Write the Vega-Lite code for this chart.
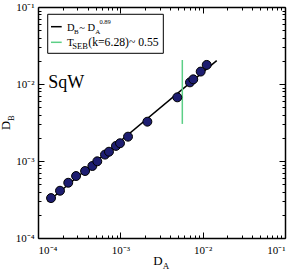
{
  "$schema": "https://vega.github.io/schema/vega-lite/v6.json",
  "autosize": "none",
  "width": 247,
  "height": 231,
  "padding": {"left": 38, "top": 7, "right": 10, "bottom": 34},
  "background": "white",
  "data": {"values": [{"anchor": 1}]},
  "config": {
    "view": {"stroke": null},
    "axis": {"grid": false, "domainColor": "black", "domainWidth": 1.5, "tickColor": "black", "tickWidth": 1, "labelFont": "Liberation Serif", "labelFontSize": 11, "labelColor": "black"}
  },
  "resolve": {"axis": {"x": "independent", "y": "independent"}},
  "layer": [
    {
      "data": {"values": [
        {"DA": 0.0001312, "DB": 0.000296},
        {"DA": 0.01481, "DB": 0.0201}
      ]},
      "mark": {"type": "line", "color": "black", "strokeWidth": 1.5},
      "encoding": {
        "x": {"field": "DA", "type": "quantitative", "scale": {"type": "log", "domain": [0.0001, 0.1], "nice": false},
          "axis": {"orient": "top", "title": null, "labels": false,
            "values": [0.0001,0.0002,0.0003,0.0004,0.0005,0.0006,0.0007,0.0008,0.0009,0.001,0.002,0.003,0.004,0.005,0.006,0.007,0.008,0.009,0.01,0.02,0.03,0.04,0.05,0.06,0.07,0.08,0.09,0.1],
            "tickSize": {"condition": {"test": "indexof([0.0001,0.001,0.01,0.1], datum.value) >= 0", "value": -6}, "value": -3}}},
        "y": {"field": "DB", "type": "quantitative", "scale": {"type": "log", "domain": [0.0001, 0.1], "nice": false},
          "axis": {"orient": "right", "title": null, "labels": false,
            "values": [0.0001,0.0002,0.0003,0.0004,0.0005,0.0006,0.0007,0.0008,0.0009,0.001,0.002,0.003,0.004,0.005,0.006,0.007,0.008,0.009,0.01,0.02,0.03,0.04,0.05,0.06,0.07,0.08,0.09,0.1],
            "tickSize": {"condition": {"test": "indexof([0.0001,0.001,0.01,0.1], datum.value) >= 0", "value": -6}, "value": -3}}}
      }
    },
    {
      "data": {"values": [{"DA": 0.00566, "lo": 0.00303, "hi": 0.0205}]},
      "mark": {"type": "rule", "color": "#5ccf86", "strokeWidth": 1.5},
      "encoding": {
        "x": {"field": "DA", "type": "quantitative", "scale": {"type": "log", "domain": [0.0001, 0.1], "nice": false}, "axis": null},
        "y": {"field": "lo", "type": "quantitative", "scale": {"type": "log", "domain": [0.0001, 0.1], "nice": false}, "axis": null},
        "y2": {"field": "hi"}
      }
    },
    {
      "data": {"values": [
        {"DA": 0.000144, "DB": 0.000330},
        {"DA": 0.000185, "DB": 0.000411},
        {"DA": 0.000233, "DB": 0.000522},
        {"DA": 0.000290, "DB": 0.000638},
        {"DA": 0.000373, "DB": 0.000741},
        {"DA": 0.000457, "DB": 0.000861},
        {"DA": 0.000525, "DB": 0.000991},
        {"DA": 0.000651, "DB": 0.00121},
        {"DA": 0.000728, "DB": 0.00132},
        {"DA": 0.000885, "DB": 0.00157},
        {"DA": 0.000991, "DB": 0.00170},
        {"DA": 0.00124, "DB": 0.00207},
        {"DA": 0.00213, "DB": 0.00324},
        {"DA": 0.00492, "DB": 0.00671},
        {"DA": 0.00701, "DB": 0.0105},
        {"DA": 0.00769, "DB": 0.0115},
        {"DA": 0.00946, "DB": 0.0145},
        {"DA": 0.0112, "DB": 0.0177}
      ]},
      "mark": {"type": "point", "shape": "circle", "filled": true, "fill": "#1d1d70", "stroke": "black", "strokeWidth": 1, "size": 80, "opacity": 1},
      "encoding": {
        "x": {"field": "DA", "type": "quantitative", "scale": {"type": "log", "domain": [0.0001, 0.1], "nice": false},
          "axis": {"orient": "bottom", "title": null, "labelPadding": 12,
            "values": [0.0001,0.0002,0.0003,0.0004,0.0005,0.0006,0.0007,0.0008,0.0009,0.001,0.002,0.003,0.004,0.005,0.006,0.007,0.008,0.009,0.01,0.02,0.03,0.04,0.05,0.06,0.07,0.08,0.09,0.1],
            "labelExpr": "datum.value == 0.0001 ? '10⁻⁴' : datum.value == 0.001 ? '10⁻³' : datum.value == 0.01 ? '10⁻²' : datum.value == 0.1 ? '10⁻¹' : ''",
            "tickSize": {"condition": {"test": "indexof([0.0001,0.001,0.01,0.1], datum.value) >= 0", "value": -6}, "value": -3}}},
        "y": {"field": "DB", "type": "quantitative", "scale": {"type": "log", "domain": [0.0001, 0.1], "nice": false},
          "axis": {"orient": "left", "title": null, "labelPadding": 10,
            "values": [0.0001,0.0002,0.0003,0.0004,0.0005,0.0006,0.0007,0.0008,0.0009,0.001,0.002,0.003,0.004,0.005,0.006,0.007,0.008,0.009,0.01,0.02,0.03,0.04,0.05,0.06,0.07,0.08,0.09,0.1],
            "labelExpr": "datum.value == 0.0001 ? '10⁻⁴' : datum.value == 0.001 ? '10⁻³' : datum.value == 0.01 ? '10⁻²' : datum.value == 0.1 ? '10⁻¹' : ''",
            "tickSize": {"condition": {"test": "indexof([0.0001,0.001,0.01,0.1], datum.value) >= 0", "value": -6}, "value": -3}}}
      }
    },
    {
      "mark": {"type": "rect", "fill": "white", "fillOpacity": 0, "stroke": "black", "strokeWidth": 1},
      "encoding": {
        "x": {"datum": 0.0001312, "type": "quantitative", "scale": {"type": "log", "domain": [0.0001, 0.1], "nice": false}, "axis": null},
        "x2": {"datum": 0.003327},
        "y": {"datum": 0.0804, "type": "quantitative", "scale": {"type": "log", "domain": [0.0001, 0.1], "nice": false}, "axis": null},
        "y2": {"datum": 0.02504}
      }
    },
    {
      "mark": {"type": "rule", "color": "black", "strokeWidth": 1.5},
      "encoding": {
        "x": {"datum": 0.0001438, "type": "quantitative", "axis": null},
        "x2": {"datum": 0.000194},
        "y": {"datum": 0.05549, "type": "quantitative", "axis": null}
      }
    },
    {
      "mark": {"type": "rule", "color": "#5ccf86", "strokeWidth": 1.5},
      "encoding": {
        "x": {"datum": 0.0001438, "type": "quantitative", "axis": null},
        "x2": {"datum": 0.000194},
        "y": {"datum": 0.03479, "type": "quantitative", "axis": null}
      }
    },
    {
      "mark": {"type": "text", "text": "D", "font": "Liberation Serif", "fontSize": 10.5, "align": "left", "baseline": "alphabetic", "color": "black"},
      "encoding": {"x": {"datum": 0.000225, "type": "quantitative", "axis": null}, "y": {"datum": 0.0492, "type": "quantitative", "axis": null}}
    },
    {
      "mark": {"type": "text", "text": "B", "font": "Liberation Serif", "fontSize": 7, "align": "left", "baseline": "alphabetic", "dx": 7, "dy": 3.3, "color": "black"},
      "encoding": {"x": {"datum": 0.000225, "type": "quantitative", "axis": null}, "y": {"datum": 0.0492, "type": "quantitative", "axis": null}}
    },
    {
      "mark": {"type": "text", "text": "~ D", "font": "Liberation Serif", "fontSize": 10.5, "align": "left", "baseline": "alphabetic", "dx": 12.3, "color": "black"},
      "encoding": {"x": {"datum": 0.000225, "type": "quantitative", "axis": null}, "y": {"datum": 0.0492, "type": "quantitative", "axis": null}}
    },
    {
      "mark": {"type": "text", "text": "A", "font": "Liberation Serif", "fontSize": 7, "align": "left", "baseline": "alphabetic", "dx": 28.2, "dy": 3.3, "color": "black"},
      "encoding": {"x": {"datum": 0.000225, "type": "quantitative", "axis": null}, "y": {"datum": 0.0492, "type": "quantitative", "axis": null}}
    },
    {
      "mark": {"type": "text", "text": "0.89", "font": "Liberation Serif", "fontSize": 6.5, "align": "left", "baseline": "alphabetic", "dx": 32.5, "dy": -7, "color": "black"},
      "encoding": {"x": {"datum": 0.000225, "type": "quantitative", "axis": null}, "y": {"datum": 0.0492, "type": "quantitative", "axis": null}}
    },
    {
      "mark": {"type": "text", "text": "T", "font": "Liberation Serif", "fontSize": 11, "align": "left", "baseline": "alphabetic", "color": "black"},
      "encoding": {"x": {"datum": 0.000225, "type": "quantitative", "axis": null}, "y": {"datum": 0.0312, "type": "quantitative", "axis": null}}
    },
    {
      "mark": {"type": "text", "text": "SEB", "font": "Liberation Serif", "fontSize": 8.5, "align": "left", "baseline": "alphabetic", "dx": 5.3, "dy": 3.3, "color": "black"},
      "encoding": {"x": {"datum": 0.000225, "type": "quantitative", "axis": null}, "y": {"datum": 0.0312, "type": "quantitative", "axis": null}}
    },
    {
      "mark": {"type": "text", "text": "(k=6.28)~ 0.55", "font": "Liberation Serif", "fontSize": 11.7, "align": "left", "baseline": "alphabetic", "dx": 21.3, "color": "black"},
      "encoding": {"x": {"datum": 0.000225, "type": "quantitative", "axis": null}, "y": {"datum": 0.0312, "type": "quantitative", "axis": null}}
    },
    {
      "mark": {"type": "text", "text": "SqW", "font": "Liberation Serif", "fontSize": 18, "align": "left", "baseline": "alphabetic", "color": "black"},
      "encoding": {"x": {"datum": 0.0001334, "type": "quantitative", "axis": null}, "y": {"datum": 0.008795, "type": "quantitative", "axis": null}}
    },
    {
      "mark": {"type": "text", "text": "D", "font": "Liberation Serif", "fontSize": 13, "align": "left", "baseline": "alphabetic", "color": "black"},
      "encoding": {"x": {"datum": 0.002514, "type": "quantitative", "axis": null}, "y": {"datum": 0.0000446, "type": "quantitative", "axis": null}}
    },
    {
      "mark": {"type": "text", "text": "A", "font": "Liberation Serif", "fontSize": 9, "align": "left", "baseline": "alphabetic", "dx": 9.5, "dy": 4, "color": "black"},
      "encoding": {"x": {"datum": 0.002514, "type": "quantitative", "axis": null}, "y": {"datum": 0.0000446, "type": "quantitative", "axis": null}}
    },
    {
      "mark": {"type": "text", "text": "D", "font": "Liberation Serif", "fontSize": 12.5, "align": "left", "baseline": "alphabetic", "angle": 270, "color": "black"},
      "encoding": {"x": {"datum": 0.0000457, "type": "quantitative", "axis": null}, "y": {"datum": 0.002527, "type": "quantitative", "axis": null}}
    },
    {
      "mark": {"type": "text", "text": "B", "font": "Liberation Serif", "fontSize": 8.5, "align": "left", "baseline": "alphabetic", "angle": 270, "dx": 9, "dy": 4.5, "color": "black"},
      "encoding": {"x": {"datum": 0.0000457, "type": "quantitative", "axis": null}, "y": {"datum": 0.002527, "type": "quantitative", "axis": null}}
    }
  ]
}
